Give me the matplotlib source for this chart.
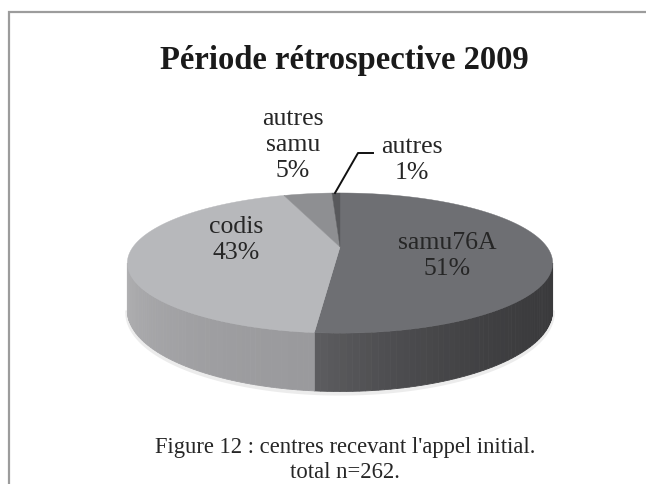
import numpy as np
import matplotlib
matplotlib.use('Agg')
import matplotlib.pyplot as plt
from matplotlib.patches import Polygon

##Chart data
labels = ['samu76A', 'codis', 'autres\nsamu', 'autres']
counts = [135, 113, 12, 2]
pct_text = ['51%', '43%', '5%', '1%']
title_text = 'Période rétrospective 2009'
caption_text = "Figure 12 : centres recevant l'appel initial.\ntotal n=262."

##Colours, top faces then side wall (left and right end of each slice)
top_cols = ['#6e6f73', '#b7b8bb', '#8e8f92', '#58595c']
side_cols = [('#5c5c5f', '#3a3a3c'), ('#9a9a9d', '#b0b0b2'), ('#8a8a8c', '#8a8a8c'), ('#505052', '#505052')]

##Pie projection (pixels), the disc is seen in perspective
cx = 340
apex_y = 247
f = 207
g = 66.4
k = 0.229
depth = 45

def project(theta):
    ##theta in radians, clockwise from the top of the pie
    w = 1 + k * np.cos(theta)
    sx = cx + f * np.sin(theta) / w
    sy = apex_y - g * np.cos(theta) / w
    return sx, sy, w

def mix(c1, c2, t):
    a = np.array(matplotlib.colors.to_rgb(c1))
    b = np.array(matplotlib.colors.to_rgb(c2))
    return a + (b - a) * t

fig = plt.figure(figsize=(6.46, 4.84), dpi=100)
ax = fig.add_axes([0, 0, 1, 1])
ax.set_xlim(0, 646)
ax.set_ylim(484, 0)
ax.axis('off')

##Frame, only left and top are in the crop
ax.plot([9, 9, 646], [484, 12, 12], color='#9c9c9c', lw=1.6, solid_joinstyle='miter')

fractions = np.array(counts) / sum(counts)
edges = np.concatenate(([0], np.cumsum(fractions))) * 2 * np.pi

##Where the side wall starts and ends on the silhouette
theta0 = np.arccos(-k)

##Soft shadow under the pie
t = np.linspace(theta0, 2 * np.pi - theta0, 120)
sx, sy, w = project(t)
ax.plot(sx, sy + depth / w + 2, color='#ececec', lw=3, zorder=1)

##Side wall, only the front of the disc shows
for i in range(len(counts)):
    lo = max(edges[i], theta0)
    hi = min(edges[i + 1], 2 * np.pi - theta0)
    if hi <= lo:
        continue
    steps = 60
    t = np.linspace(lo, hi, steps + 1)
    sx, sy, w = project(t)
    for j in range(steps):
        ##first slice runs right to left, dark at the right, lighter towards the front
        frac = j / (steps - 1)
        if i == 0:
            col = mix(side_cols[i][1], side_cols[i][0], frac ** 2.5)
        else:
            col = mix(side_cols[i][0], side_cols[i][1], frac ** 1.5)
        quad = [(sx[j], sy[j]), (sx[j + 1], sy[j + 1]),
                (sx[j + 1], sy[j + 1] + depth / w[j + 1]), (sx[j], sy[j] + depth / w[j])]
        ax.add_patch(Polygon(quad, closed=True, fc=col, ec=col, lw=0.6, zorder=2))

##Top faces
for i in range(len(counts)):
    t = np.linspace(edges[i], edges[i + 1], 200)
    sx, sy, w = project(t)
    pts = [(cx, apex_y)] + list(zip(sx, sy))
    ax.add_patch(Polygon(pts, closed=True, fc=top_cols[i], ec=top_cols[i], lw=0.3, zorder=3))

##Texts
serif = ['Liberation Serif', 'DejaVu Serif']
txt = '#262626'
ax.text(344, 60, title_text, ha='center', va='center', fontsize=23.5, fontweight='bold',
        family=serif, color='#1a1a1a')
ax.text(447, 256, labels[0] + '\n' + pct_text[0], ha='center', va='center', fontsize=18.5,
        family=serif, color=txt, linespacing=1.18, zorder=5)
ax.text(236, 240, labels[1] + '\n' + pct_text[1], ha='center', va='center', fontsize=18.5,
        family=serif, color=txt, linespacing=1.18, zorder=5)
ax.text(293, 145, labels[2] + '\n' + pct_text[2], ha='center', va='center', fontsize=18.5,
        family=serif, color=txt, linespacing=1.22, zorder=5)
ax.text(412, 160, labels[3] + '\n' + pct_text[3], ha='center', va='center', fontsize=18.5,
        family=serif, color=txt, linespacing=1.18, zorder=5)

##Leader line of the smallest slice
ax.plot([335, 358, 373], [193, 153, 153], color='#111111', lw=1.4, zorder=5)

ax.text(345, 460, caption_text, ha='center', va='center', fontsize=16.3, family=serif,
        color=txt, linespacing=1.2)

fig.savefig('out.png', dpi=100)
